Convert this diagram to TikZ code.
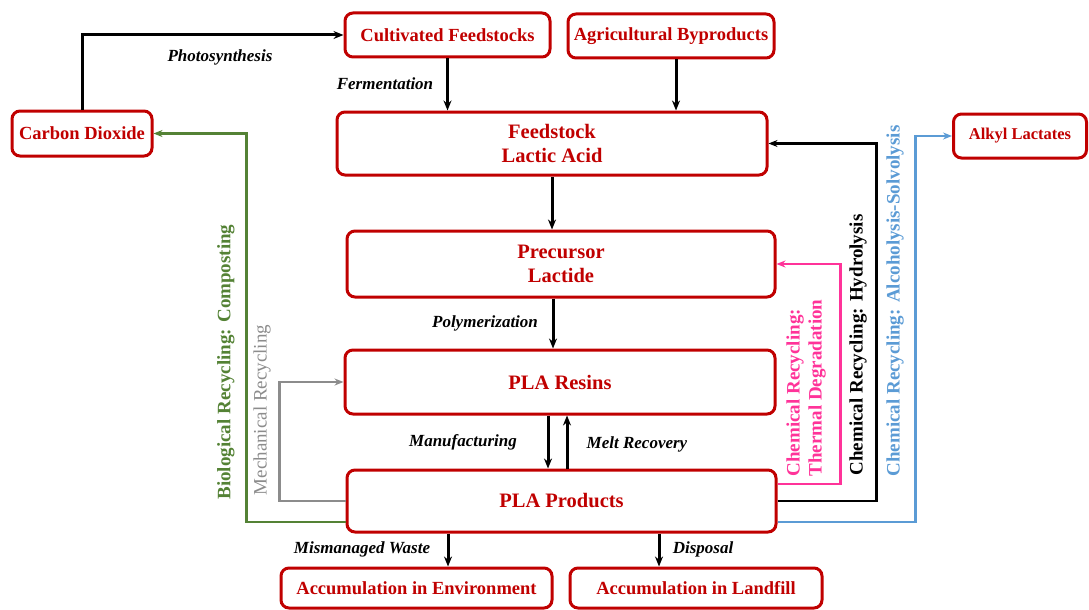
\documentclass[tikz,border=0pt]{standalone}
\usepackage{fontspec}
\setmainfont{Liberation Serif}
\usepackage{xcolor}
\usepackage{tikz}
\usetikzlibrary{arrows.meta}

\definecolor{boxred}{RGB}{192,0,0}
\definecolor{biogreen}{RGB}{84,130,53}
\definecolor{mechgray}{RGB}{140,140,140}
\definecolor{thermpink}{RGB}{255,51,153}
\definecolor{solvblue}{RGB}{91,155,213}

\begin{document}
\begin{tikzpicture}[x=1pt,y=-1pt,
  stage/.style={draw=boxred, line width=3pt, rounded corners=8pt, text=boxred,
    font=\bfseries\fontsize{18.5}{22}\selectfont, align=center, inner sep=0pt},
  bigstage/.style={stage, font=\bfseries\fontsize{20.5}{24}\selectfont},
  flow/.style={->, >={Stealth[length=10pt,width=8pt]}, line width=3pt},
  loop/.style={->, >={Stealth[length=9pt,width=7pt]}, line width=2.5pt},
  step label/.style={font=\bfseries\itshape\fontsize{17}{20}\selectfont},
  side label/.style={rotate=90, font=\bfseries\fontsize{19}{22}\selectfont, align=left}]

\useasboundingbox (0,0) rectangle (1089,610);

% ===================== stages =====================
\node[stage, minimum width=205, minimum height=44] (cult)  at (447.5,35)  {Cultivated Feedstocks};
\node[stage, minimum width=206, minimum height=44] (agri)  at (671,36)    {Agricultural Byproducts};
\node[stage, minimum width=140, minimum height=45] (co2)   at (82,133.5)  {Carbon Dioxide};
\node[stage, minimum width=133, minimum height=44, font=\bfseries\fontsize{16.5}{20}\selectfont]
                                                   (alkyl) at (1020,136)  {Alkyl Lactates};
\node[bigstage, minimum width=430, minimum height=63] (feed)  at (552,143.5) {Feedstock\\Lactic Acid};
\node[bigstage, minimum width=428, minimum height=66] (prec)  at (561,264)   {Precursor\\Lactide};
\node[bigstage, minimum width=430, minimum height=64] (resin) at (560,382)   {PLA Resins};
\node[bigstage, minimum width=429, minimum height=62] (prod)  at (561.5,501) {PLA Products};
\node[stage, minimum width=271, minimum height=40] (env)   at (416.5,588) {Accumulation in Environment};
\node[stage, minimum width=252, minimum height=40] (land)  at (696,588)   {Accumulation in Landfill};

% ===================== main chain =====================
\draw[flow] (co2.north) |- (cult.west);
\node[step label] (lphoto) at (220,57) {Photosynthesis};

\draw[flow] (cult.south) -- (cult.south |- feed.north);
\node[step label] (lferm) at (385,84) {Fermentation};

\coordinate (agriout) at ([xshift=5pt]agri.south);
\draw[flow] (agriout) -- (agriout |- feed.north);

\draw[flow] (feed.south) -- (feed.south |- prec.north);

\coordinate (precout) at ([xshift=-8pt]prec.south);
\draw[flow] (precout) -- (precout |- resin.north);
\node[step label] (lpoly) at (485,323) {Polymerization};

\coordinate (resinout) at ([xshift=-12pt]resin.south);
\draw[flow] (resinout) -- (resinout |- prod.north);
\node[step label] (lmanu) at (463,442) {Manufacturing};

\coordinate (produp) at ([xshift=5.5pt]prod.north);
\draw[flow] (produp) -- (produp |- resin.south);
\node[step label] (lmelt) at (637,444) {Melt Recovery};

\coordinate (wasteout) at ([xshift=-113.5pt]prod.south);
\draw[flow] (wasteout) -- (wasteout |- env.north);
\node[step label] (lwaste) at (362,549) {Mismanaged Waste};

\coordinate (dispout) at ([xshift=97.5pt]prod.south);
\draw[flow] (dispout) -- (dispout |- land.north);
\node[step label] (ldisp) at (703,549) {Disposal};

% ===================== recycling loops =====================
\draw[loop, biogreen] ([yshift=-21pt]prod.west) -- ++(-99,0) |- (co2.east);
\node[side label, text=biogreen] (lbio) at (226,362) {Biological Recycling: Composting};

\draw[loop, mechgray] (prod.west) -- ++(-66,0) |- (resin.west);
\node[side label, text=mechgray, font=\fontsize{19}{22}\selectfont] (lmech) at (262,410) {Mechanical Recycling};

\draw[loop, thermpink] ([yshift=17pt]prod.east) -- ++(63,0) |- (prec.east);
\node[side label, text=thermpink] (ltherm) at (806,388) {Chemical Recycling:\\Thermal Degradation};

\draw[loop, black] (prod.east) -- ++(99,0) |- (feed.east);
\node[side label] (lhydro) at (858,345) {Chemical Recycling: Hydrolysis};

\draw[loop, solvblue] ([yshift=-21pt]prod.east) -- ++(138,0) |- (alkyl.west);
\node[side label, text=solvblue] (lsolv) at (895,301) {Chemical Recycling: Alcoholysis-Solvolysis};

\end{tikzpicture}
\end{document}
